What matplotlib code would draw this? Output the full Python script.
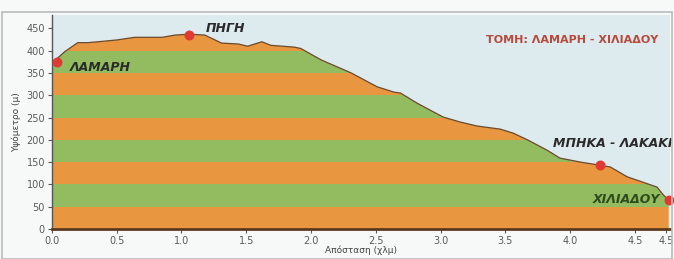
import numpy as np
import matplotlib
matplotlib.use('Agg')
import matplotlib.pyplot as plt
from matplotlib.patches import Rectangle

# datos del perfil (distancia en km, altitud en m)
apostasi = [0.0, 0.1, 0.2, 0.28, 0.5, 0.64, 0.85, 0.95, 1.06, 1.18, 1.31, 1.44,
            1.51, 1.62, 1.69, 1.87, 1.92, 2.08, 2.31, 2.51, 2.64, 2.69, 2.82,
            3.02, 3.15, 3.28, 3.46, 3.56, 3.67, 3.82, 3.92, 4.08, 4.23, 4.31,
            4.44, 4.56, 4.67, 4.72, 4.76]
ypsometro = [372, 398, 418, 418, 424, 430, 430, 435, 437, 435, 417, 415,
             410, 420, 412, 408, 405, 379, 350, 319, 307, 305, 282,
             251, 240, 231, 224, 215, 200, 177, 159, 150, 143, 139,
             117, 105, 94, 76, 65]

# puntos marcados
simeia = ['ΛΑΜΑΡΗ', 'ΠΗΓΗ', 'ΜΠΗΚΑ - ΛΑΚΑΚΙ', 'ΧΙΛΙΑΔΟΥ']
simeia_x = [0.04, 1.06, 4.23, 4.76]
simeia_y = [374, 436, 143, 65]

zones = [0, 50, 100, 150, 200, 250, 300, 350, 400, 450, 500]
xticks = [0.0, 0.5, 1.0, 1.5, 2.0, 2.5, 3.0, 3.5, 4.0, 4.5, 4.74]
xticklabels = ['0.0', '0.5', '1.0', '1.5', '2.0', '2.5', '3.0', '3.5', '4.0', '4.5', '4.5']
yticks = [0, 50, 100, 150, 200, 250, 300, 350, 400, 450]

naranja = '#E8963F'
verde = '#93BC60'

fig = plt.figure(figsize=(6.74, 2.59), dpi=100)
fig.patch.set_facecolor('#F7F8F8')
ax = fig.add_axes([0.077, 0.116, 0.917, 0.826])
ax.set_facecolor('#DDEAEE')

x = np.array(apostasi)
y = np.array(ypsometro)

# poligono del perfil para recortar las franjas
poly = ax.fill_between(x, y, 0, color='none', lw=0)
clip = poly.get_paths()[0]
for i in range(len(zones) - 1):
    c = naranja if i % 2 == 0 else verde
    r = ax.axhspan(zones[i], zones[i + 1], color=c, lw=0)
    r.set_clip_path(clip, ax.transData)

ax.plot(x, y, color='#6B4A2E', lw=0.9)
ax.scatter(simeia_x, simeia_y, s=38, color='#E03A35', zorder=5, clip_on=False)

# etiquetas
estilo = dict(fontsize=9, fontweight='bold', style='italic', va='center')
ax.text(0.14, 362, simeia[0], color='#2A2A2A', **estilo)
ax.text(1.19, 450, simeia[1], color='#2A2A2A', **estilo)
ax.text(4.79, 192, simeia[2], color='#2A2A2A', ha='right', **estilo)
ax.text(4.69, 65, simeia[3], color='#2F4A1C', ha='right', **estilo)
ax.text(4.68, 425, 'ΤΟΜΗ: ΛΑΜΑΡΗ - ΧΙΛΙΑΔΟΥ', fontsize=8, fontweight='bold',
        color='#B84A3C', va='center', ha='right')

ax.set_xlim(0, 4.77)
ax.set_ylim(0, 480)
ax.set_xticks(xticks)
ax.set_xticklabels(xticklabels)
ax.set_yticks(yticks)
ax.tick_params(labelsize=7, colors='#5A5A5A', length=3, width=0.8, pad=2)
ax.set_xlabel('Απόσταση (χλμ)', fontsize=6.5, color='#444444', labelpad=0)
ax.set_ylabel('Υψόμετρο (μ)', fontsize=6.5, color='#444444', labelpad=4)

for s in ['top', 'right']:
    ax.spines[s].set_visible(False)
ax.spines['left'].set_color('#555555')
ax.spines['left'].set_linewidth(1.0)
ax.spines['bottom'].set_color('#5A3A1C')
ax.spines['bottom'].set_linewidth(2.0)

# marco exterior
fig.patches.append(Rectangle((0.003, 0.0), 0.994, 0.955, transform=fig.transFigure,
                             fill=False, edgecolor='#B8BCBE', lw=1.2))

fig.savefig('out.png', dpi=100, facecolor=fig.get_facecolor())
